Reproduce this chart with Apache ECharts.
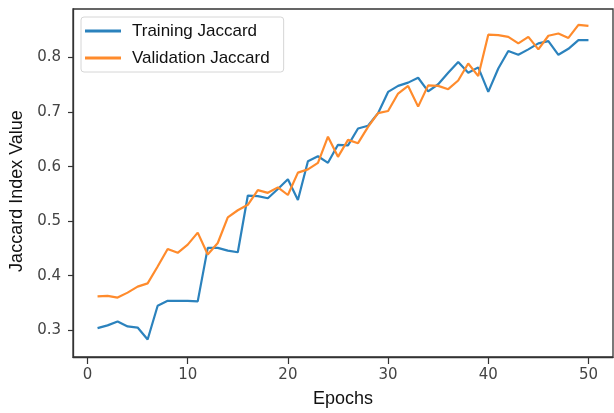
<!DOCTYPE html>
<html>
<head>
<meta charset="utf-8">
<script src="https://cdn.jsdelivr.net/npm/echarts@6/dist/echarts.min.js"></script>
<style>html,body{margin:0;padding:0;background:#fff}#c{width:614px;height:413px}</style>
</head>
<body>
<div id="c"></div>
<script>
const epochs = [1,2,3,4,5,6,7,8,9,10,11,12,13,14,15,16,17,18,19,20,21,22,23,24,25,26,27,28,29,30,31,32,33,34,35,36,37,38,39,40,41,42,43,44,45,46,47,48,49,50];
const trainingJaccard = [0.304,0.309,0.316,0.307,0.305,0.283,0.345,0.354,0.354,0.354,0.353,0.451,0.451,0.446,0.443,0.547,0.546,0.542,0.559,0.577,0.539,0.610,0.619,0.607,0.640,0.639,0.670,0.675,0.698,0.737,0.748,0.754,0.763,0.738,0.751,0.772,0.792,0.772,0.782,0.737,0.780,0.812,0.805,0.815,0.826,0.830,0.805,0.816,0.832,0.832];
const validationJaccard = [0.362,0.363,0.360,0.369,0.380,0.386,0.417,0.449,0.442,0.457,0.479,0.439,0.460,0.507,0.520,0.530,0.557,0.552,0.562,0.548,0.589,0.595,0.607,0.655,0.618,0.649,0.643,0.673,0.698,0.702,0.734,0.748,0.710,0.749,0.748,0.742,0.758,0.789,0.766,0.842,0.841,0.838,0.826,0.838,0.815,0.840,0.844,0.836,0.860,0.858];
const xTicks = [0,10,20,30,40,50];
const yTicks = [0.3,0.4,0.5,0.6,0.7,0.8];
const seriesNames = ['Training Jaccard','Validation Jaccard'];
const colors = ['#2b82bd','#ff8b2c'];

const chart = echarts.init(document.getElementById('c'), null, {renderer:'canvas'});
const axisCol = '#333';
chart.setOption({
  animation:false,
  backgroundColor:'#fff',
  grid:{left:72,right:1,top:9,bottom:52,show:true,borderColor:axisCol,borderWidth:1.3,backgroundColor:'transparent'},
  legend:{
    orient:'vertical',left:81,top:17,
    padding:[4,14,4,4],
    itemGap:7,
    itemWidth:36,itemHeight:3,icon:'rect',
    borderColor:'#d6d6d6',borderWidth:1,borderRadius:3,
    textStyle:{fontFamily:'Liberation Sans',fontSize:17,color:'#111',lineHeight:20,padding:[0,0,0,6]},
    data:seriesNames.map((n,i)=>({name:n,itemStyle:{color:colors[i]}}))
  },
  xAxis:{
    type:'value',min:-1.45,max:52.45,
    name:'Epochs',nameLocation:'middle',nameGap:33,
    nameTextStyle:{fontFamily:'Liberation Sans',fontSize:18,color:'#111'},
    axisLine:{show:true,onZero:false,lineStyle:{color:axisCol,width:1.3}},
    axisTick:{show:true,inside:false,length:7,customValues:xTicks,lineStyle:{color:axisCol,width:1.2}},
    axisLabel:{customValues:xTicks,margin:11,fontFamily:'DejaVu Sans',fontSize:15,color:'#444'},
    splitLine:{show:false}
  },
  yAxis:{
    type:'value',min:0.251,max:0.889,
    name:'Jaccard Index Value',nameLocation:'middle',nameGap:47,
    nameTextStyle:{fontFamily:'Liberation Sans',fontSize:18,color:'#111',padding:[0,16,0,0]},
    axisLine:{show:true,onZero:false,lineStyle:{color:axisCol,width:1.3}},
    axisTick:{show:true,inside:false,length:5,customValues:yTicks,lineStyle:{color:axisCol,width:1.2}},
    axisLabel:{customValues:yTicks,margin:12,fontFamily:'DejaVu Sans',fontSize:15,color:'#444',formatter:v=>v.toFixed(1)},
    splitLine:{show:false}
  },
  series:[
    {name:seriesNames[0],type:'line',showSymbol:false,symbol:'none',data:epochs.map((e,i)=>[e,trainingJaccard[i]]),lineStyle:{color:colors[0],width:2.2},itemStyle:{color:colors[0]},z:2},
    {name:seriesNames[1],type:'line',showSymbol:false,symbol:'none',data:epochs.map((e,i)=>[e,validationJaccard[i]]),lineStyle:{color:colors[1],width:2.2},itemStyle:{color:colors[1]},z:3}
  ]
});
</script>
</body>
</html>
